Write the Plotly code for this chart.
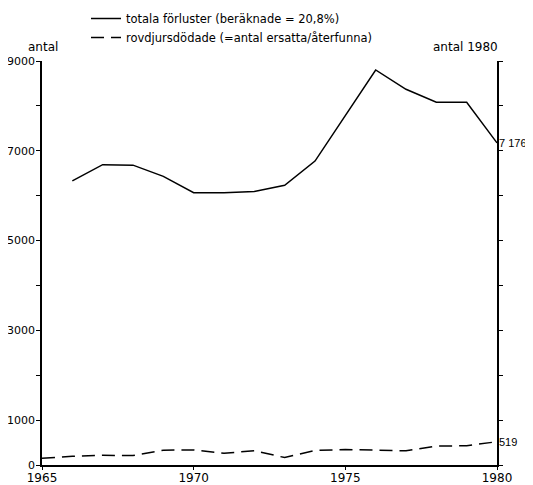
import plotly.graph_objects as go

years_total = [1966, 1967, 1968, 1969, 1970, 1971, 1972, 1973, 1974, 1975, 1976, 1977, 1978, 1979, 1980]
totala = [6330, 6690, 6680, 6430, 6065, 6065, 6095, 6230, 6770, 7800, 8800, 8370, 8080, 8080, 7176]

years_rov = [1965, 1966, 1967, 1968, 1969, 1970, 1971, 1972, 1973, 1974, 1975, 1976, 1977, 1978, 1979, 1980]
rovdjur = [150, 195, 215, 210, 330, 335, 260, 320, 165, 325, 345, 325, 315, 420, 430, 519]

y_ticks = [0, 1000, 2000, 3000, 4000, 5000, 6000, 7000, 8000, 9000]
y_labels = ["0", "1000", "", "3000", "", "5000", "", "7000", "", "9000"]
x_ticks = [1965, 1970, 1975, 1980]

FONT = "DejaVu Sans"
NARROW = "Liberation Sans"
OFF = 8  # default page body margin
W, H = 533 - OFF, 485 - OFF
L, R, T, B = 42 - OFF, 36, 61 - OFF, 20
PW, PH = W - L - R, H - T - B


def px(xp):
    return (xp - OFF - L) / PW


def py(yp):
    return (H - B - (yp - OFF)) / PH


fig = go.Figure()
fig.add_trace(go.Scatter(
    x=years_total, y=totala, mode="lines",
    name="totala förluster (beräknade = 20,8%)",
    line=dict(color="black", width=1.5),
))
fig.add_trace(go.Scatter(
    x=years_rov, y=rovdjur, mode="lines",
    name="rovdjursdödade (=antal ersatta/återfunna)",
    line=dict(color="black", width=1.5, dash="13px,7px"),
))
fig.add_trace(go.Scatter(
    x=[1980], y=[0], yaxis="y2", mode="markers",
    marker=dict(opacity=0), showlegend=False, hoverinfo="skip",
))

fig.update_layout(
    width=W, height=H,
    margin=dict(l=L, r=R, t=T, b=B, autoexpand=False),
    plot_bgcolor="white", paper_bgcolor="white",
    font=dict(family=FONT, size=11, color="black"),
    showlegend=True,
    legend=dict(
        x=px(86), y=py(4), xanchor="left", yanchor="top",
        bgcolor="rgba(0,0,0,0)", font=dict(size=11.5, family=FONT, color="black"),
        tracegroupgap=0,
    ),
    xaxis=dict(
        range=[1965, 1980], tickvals=x_ticks, ticks="outside", ticklen=3,
        showline=True, linecolor="black", linewidth=1.5, tickcolor="black",
        showgrid=False, zeroline=False, tickfont=dict(size=12, color="black"),
        automargin=False, ticklabelstandoff=-2,
    ),
    yaxis=dict(
        range=[0, 9000], tickvals=y_ticks, ticktext=y_labels, ticks="outside",
        ticklen=4, showline=True, linecolor="black", linewidth=1.5,
        tickcolor="black", showgrid=False, zeroline=False,
        tickfont=dict(size=11, color="black"), automargin=False,
        ticklabelstandoff=-1,
    ),
    yaxis2=dict(
        range=[0, 9000], overlaying="y", side="right", tickvals=y_ticks,
        showticklabels=False, ticks="outside", ticklen=4, showline=True,
        linecolor="black", linewidth=1.5, tickcolor="black", showgrid=False,
        zeroline=False, automargin=False,
    ),
    annotations=[
        dict(x=px(26), y=py(47), xref="paper", yref="paper", text="antal",
             showarrow=False, yanchor="middle", font=dict(size=12, color="black")),
        dict(x=px(500), y=py(47), xref="paper", yref="paper", text="antal 1980",
             showarrow=False, yanchor="middle", font=dict(size=12, color="black")),
        dict(x=1980, y=7176, xref="x", yref="y", text="7 176", showarrow=False,
             xanchor="left", xshift=0, font=dict(size=11, family=NARROW, color="black")),
        dict(x=1980, y=519, xref="x", yref="y", text="519", showarrow=False,
             xanchor="left", xshift=0, font=dict(size=11, family=NARROW, color="black")),
    ],
)

fig.write_html("out.html")
